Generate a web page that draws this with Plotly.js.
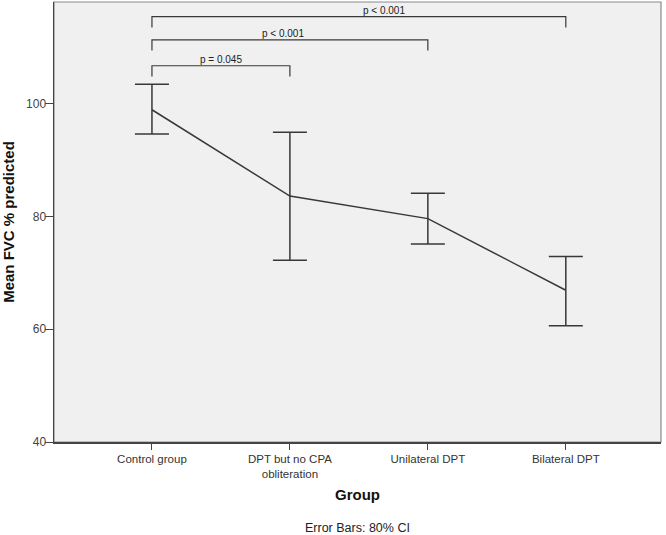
<!DOCTYPE html>
<html>
<head>
<meta charset="utf-8">
<script src="https://cdn.plot.ly/plotly-3.0.1.min.js"></script>
<style>
  html, body { margin: 0; padding: 0; background: #fff; }
  #chart { width: 666px; height: 535px; }
</style>
</head>
<body>
<div id="chart"></div>
<script>
// groups and means with 80% CI
const groups    = ['Control group', 'DPT but no CPA<br>obliteration', 'Unilateral DPT', 'Bilateral DPT'];
const meanFVC   = [98.9, 83.6, 79.6, 66.9];
const ciUpper   = [103.4, 94.9, 84.1, 72.9];
const ciLower   = [94.6, 72.2, 75.1, 60.6];

// pairwise comparisons vs control (bracket height in y units)
const cmpTo     = [1, 2, 3];
const cmpLabel  = ['p = 0.045', 'p < 0.001', 'p < 0.001'];
const cmpLevel  = [106.7, 111.3, 115.4];

const lineColor = '#383838';

const plus  = ciUpper.map((u, i) => u - meanFVC[i]);
const minus = meanFVC.map((m, i) => m - ciLower[i]);

const trace = {
  x: groups,
  y: meanFVC,
  type: 'scatter',
  mode: 'lines',
  line: { color: lineColor, width: 1.5 },
  error_y: {
    type: 'data',
    symmetric: false,
    array: plus,
    arrayminus: minus,
    color: lineColor,
    thickness: 1.5,
    width: 17
  },
  hoverinfo: 'skip'
};

// brackets
const shapes = [];
const annotations = [];
const labelShift = [0, -7, 25];
cmpTo.forEach((j, k) => {
  const y = cmpLevel[k];
  const drop = 1.9;
  shapes.push({
    type: 'path', xref: 'x', yref: 'y',
    path: `M 0 ${y - drop} L 0 ${y} L ${j} ${y} L ${j} ${y - drop}`,
    line: { color: lineColor, width: 1.2 }
  });
  annotations.push({
    x: j / 2, y: y, xref: 'x', yref: 'y',
    text: cmpLabel[k], showarrow: false,
    xshift: labelShift[k], yanchor: 'bottom', yshift: -1,
    font: { family: 'Liberation Sans, Arial', size: 10, color: '#222' }
  });
});

annotations.push({
  x: 0.5, y: 0, xref: 'paper', yref: 'paper',
  text: 'Group', showarrow: false,
  yanchor: 'middle', yshift: -52,
  font: { family: 'Liberation Sans, Arial', size: 15, color: '#111', weight: 'bold' }
});
annotations.push({
  x: 0.5, y: 0, xref: 'paper', yref: 'paper',
  text: 'Error Bars: 80% CI', showarrow: false,
  yanchor: 'middle', yshift: -86,
  font: { family: 'Liberation Sans, Arial', size: 12.5, color: '#222' }
});

const layout = {
  width: 666,
  height: 535,
  margin: { l: 54, r: 5, t: 2, b: 93 },
  paper_bgcolor: '#ffffff',
  plot_bgcolor: '#f0f0f0',
  showlegend: false,
  font: { family: 'Liberation Sans, Arial', size: 11, color: '#333' },
  xaxis: {
    type: 'category',
    range: [-0.71, 3.69],
    showgrid: false,
    zeroline: false,
    ticks: 'outside',
    ticklen: 6,
    tickwidth: 1,
    tickcolor: '#444',
    showline: true,
    linecolor: '#444',
    linewidth: 1.5,
    mirror: false,
    tickfont: { size: 11.5, color: '#333' }
  },
  yaxis: {
    range: [40, 118],
    tickvals: [40, 60, 80, 100],
    showgrid: false,
    zeroline: false,
    ticks: 'outside',
    ticklen: 8,
    tickwidth: 1,
    tickcolor: '#444',
    showline: true,
    linecolor: '#444',
    linewidth: 1.5,
    ticklabelstandoff: -4,
    tickfont: { size: 12, color: '#444' },
    title: {
      text: 'Mean FVC % predicted',
      font: { size: 15, color: '#111', weight: 'bold' },
      standoff: 18
    }
  },
  shapes: [
    // light frame on top and right
    { type: 'rect', xref: 'paper', yref: 'paper', x0: 0, x1: 1, y0: 0, y1: 1,
      line: { color: '#8a8a8a', width: 1.2 }, layer: 'below' }
  ].concat(shapes),
  annotations: annotations
};

Plotly.newPlot('chart', [trace], layout, { displayModeBar: false, staticPlot: true });
</script>
</body>
</html>
